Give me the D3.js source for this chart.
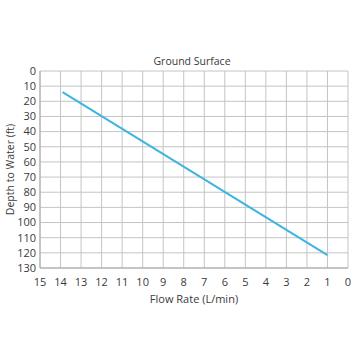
<!DOCTYPE html>
<html><head><meta charset="utf-8">
<script src="https://cdn.jsdelivr.net/npm/d3@7"></script>
<style>body{margin:0;background:#fff}text{font-family:"Open Sans",sans-serif;fill:#3a3a3a}</style>
</head><body><svg id="c" width="360" height="360"></svg>
<script>
const flowRate = [13.9, 1];
const depth = [14, 121.5];
const xTicks = [15,14,13,12,11,10,9,8,7,6,5,4,3,2,1,0];
const yTicks = [0,10,20,30,40,50,60,70,80,90,100,110,120,130];
const title = "Ground Surface";
const xLabel = "Flow Rate (L/min)";
const yLabel = "Depth to Water (ft)";

const svg = d3.select("#c");
const L=40,R=348,T=71,B=268;
const x = d3.scaleLinear().domain([15,0]).range([L,R]);
const y = d3.scaleLinear().domain([0,130]).range([T,B]);

const g = svg.append("g");
g.selectAll(".vx").data(xTicks).join("line")
 .attr("x1",d=>x(d)).attr("x2",d=>x(d)).attr("y1",T).attr("y2",B)
 .attr("stroke","#c4c4c4").attr("stroke-width",1);
g.selectAll(".hy").data(yTicks).join("line")
 .attr("y1",d=>y(d)).attr("y2",d=>y(d)).attr("x1",L).attr("x2",R)
 .attr("stroke","#c4c4c4").attr("stroke-width",1);
g.append("line").attr("x1",L).attr("x2",L).attr("y1",T).attr("y2",B).attr("stroke","#a8a8a8");
g.append("line").attr("x1",L).attr("x2",R).attr("y1",B).attr("y2",B).attr("stroke","#a8a8a8");

svg.append("g").selectAll("text").data(yTicks).join("text")
 .attr("x",L-4).attr("y",d=>y(d)).attr("dy","0.35em").attr("text-anchor","end")
 .attr("font-size",11).text(d=>d);
svg.append("g").selectAll("text").data(xTicks).join("text")
 .attr("x",d=>x(d)).attr("y",282).attr("dy","0.35em").attr("text-anchor","middle")
 .attr("font-size",11).text(d=>d);

const pts = flowRate.map((f,i)=>[f,depth[i]]);
svg.append("path").datum(pts)
 .attr("d",d3.line().x(d=>x(d[0])).y(d=>y(d[1])))
 .attr("fill","none").attr("stroke","#3db5e0").attr("stroke-width",2);

svg.append("text").attr("x",(L+R)/2-2).attr("y",61).attr("dy","0.35em")
 .attr("text-anchor","middle").attr("font-size",10.5).text(title);
svg.append("text").attr("x",(L+R)/2).attr("y",299).attr("dy","0.35em")
 .attr("text-anchor","middle").attr("font-size",11).text(xLabel);
svg.append("text").attr("transform",`translate(10,${(T+B)/2}) rotate(-90)`).attr("dy","0.35em")
 .attr("text-anchor","middle").attr("font-size",10.5).text(yLabel);
</script></body></html>
